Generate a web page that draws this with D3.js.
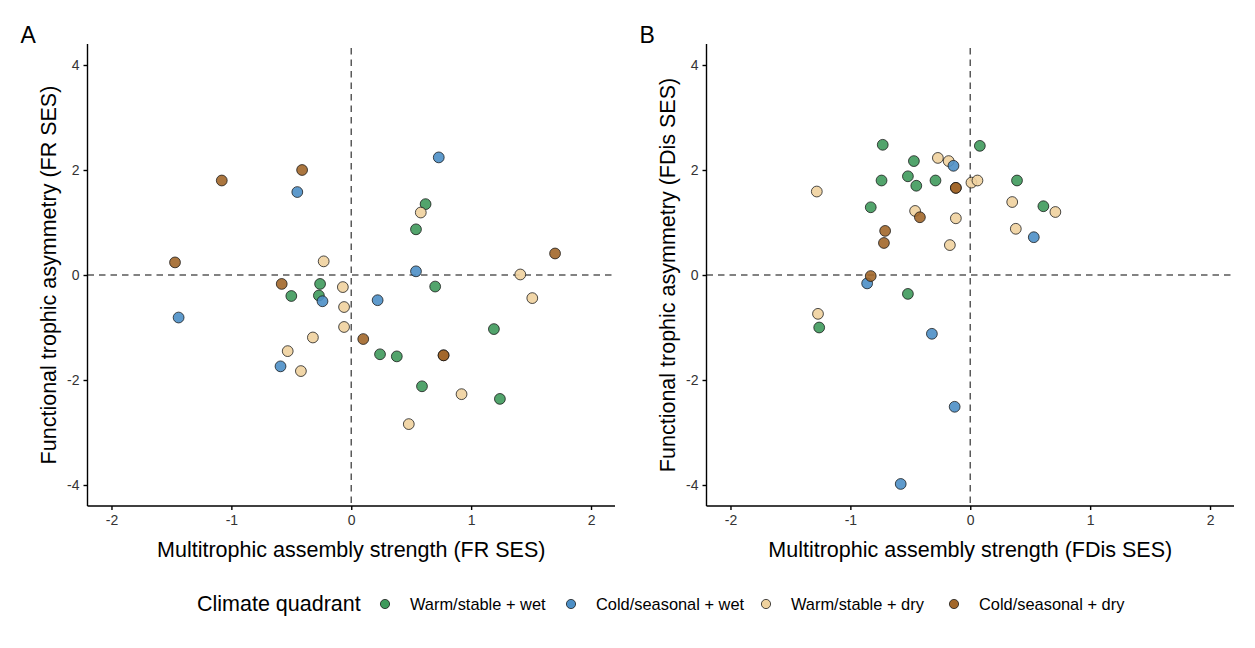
<html>
<head>
<meta charset="utf-8">
<script src="https://d3js.org/d3.v7.min.js"></script>
<style>
  body { margin: 0; background: #fff; }
  text { font-family: "Liberation Sans", Arial, sans-serif; }
</style>
</head>
<body>
<script>
// climate quadrants and their fills
var quadrants = ["Warm/stable + wet", "Cold/seasonal + wet", "Warm/stable + dry", "Cold/seasonal + dry"];
var quadColors = ["#3F9A5C", "#4C8FC6", "#EFD29E", "#A2672A"];

var xTicks = [-2, -1, 0, 1, 2];
var yTicks = [-4, -2, 0, 2, 4];

// panel A: FR SES (group index into quadrants)
var frX = [-0.41, -1.08, -0.45, -1.47, -0.23, -0.58, -0.26, -0.50, -0.27, -0.24, -0.07, -0.06, -0.06, -1.44, -0.32, -0.53, -0.59, -0.42,
           0.73, 0.62, 0.58, 0.54, 1.70, 0.54, 1.41, 0.70, 1.51, 0.22, 1.19, 0.10, 0.24, 0.38, 0.77, 0.77, 0.59, 0.92, 1.24, 0.48];
var frY = [2.00, 1.80, 1.58, 0.24, 0.26, -0.17, -0.17, -0.40, -0.39, -0.50, -0.23, -0.61, -0.99, -0.81, -1.19, -1.45, -1.74, -1.83,
           2.24, 1.35, 1.19, 0.87, 0.41, 0.07, 0.01, -0.22, -0.44, -0.48, -1.03, -1.22, -1.51, -1.55, -1.53, -1.53, -2.12, -2.27, -2.36, -2.84];
var frGroup = [3, 3, 1, 3, 2, 3, 0, 0, 0, 1, 2, 2, 2, 1, 2, 2, 1, 2,
               1, 0, 2, 0, 3, 1, 2, 0, 2, 1, 0, 3, 0, 0, 3, 3, 0, 2, 0, 2];

// panel B: FDis SES
var fdX = [-0.73, 0.08, -0.27, -0.18, -0.14, -0.47, -0.52, -0.74, -0.45, -0.29, -0.12, -0.12, 0.01, 0.06, -1.28, -0.83, -0.46, -0.42,
           -0.12, -0.71, -0.72, -0.17, 0.39, 0.35, 0.61, 0.71, 0.38, 0.53, -0.86, -0.83, -0.52, -1.27, -1.26, -0.32, -0.13, -0.58];
var fdY = [2.48, 2.46, 2.23, 2.17, 2.08, 2.17, 1.88, 1.80, 1.70, 1.80, 1.66, 1.66, 1.76, 1.80, 1.59, 1.29, 1.22, 1.10,
           1.08, 0.84, 0.61, 0.57, 1.80, 1.39, 1.31, 1.20, 0.88, 0.72, -0.16, -0.02, -0.36, -0.74, -1.00, -1.12, -2.51, -3.98];
var fdGroup = [0, 0, 2, 2, 1, 0, 0, 0, 0, 0, 3, 3, 2, 2, 2, 0, 2, 3,
               2, 3, 3, 2, 0, 2, 0, 2, 2, 1, 1, 3, 0, 2, 0, 1, 1, 1];

var W = 1255, H = 648;
var svg = d3.select("body").append("svg").attr("width", W).attr("height", H);

function panel(opts) {
    var x = d3.scaleLinear().domain([-2.2, 2.2]).range([opts.left, opts.right]);
    var y = d3.scaleLinear().domain([-4.4, 4.4]).range([opts.bottom, opts.top]);
    var g = svg.append("g");

    // reference lines
    g.append("line")
        .attr("x1", opts.left).attr("x2", opts.right)
        .attr("y1", y(0)).attr("y2", y(0))
        .style("stroke", "#5a5a5a").style("stroke-width", 1.5).style("stroke-dasharray", "6.5,5");
    g.append("line")
        .attr("x1", x(0)).attr("x2", x(0))
        .attr("y1", opts.top + 4).attr("y2", opts.bottom)
        .style("stroke", "#5a5a5a").style("stroke-width", 1.5).style("stroke-dasharray", "6.5,5");

    // points
    var idx = d3.range(opts.xs.length);
    g.selectAll("circle.pt")
        .data(idx)
        .enter()
        .append("circle")
        .attr("class", "pt")
        .attr("cx", i => x(opts.xs[i]))
        .attr("cy", i => y(opts.ys[i]))
        .attr("r", 5.4)
        .style("fill", i => quadColors[opts.groups[i]])
        .style("fill-opacity", 0.9)
        .style("stroke", "#111")
        .style("stroke-width", 0.75);

    // axes
    var xAxis = g.append("g")
        .attr("transform", "translate(0," + opts.bottom + ")")
        .call(d3.axisBottom(x).tickValues(xTicks).tickSize(4).tickPadding(5).tickFormat(d => String(d)));
    var yAxis = g.append("g")
        .attr("transform", "translate(" + opts.left + ",0)")
        .call(d3.axisLeft(y).tickValues(yTicks).tickSize(4).tickPadding(4).tickFormat(d => String(d)));
    [xAxis, yAxis].forEach(function(a) {
        a.select(".domain").style("stroke", "#000").style("stroke-width", 1.4);
        a.selectAll(".tick line").style("stroke", "#000").style("stroke-width", 1.4);
        a.selectAll(".tick text").style("font-size", "14px").style("fill", "#333")
            .style("font-family", "'Liberation Sans', Arial, sans-serif");
    });
    xAxis.select(".domain").attr("d", "M" + opts.left + ",0H" + opts.right);
    yAxis.select(".domain").attr("d", "M0," + opts.top + "V" + opts.bottom);

    // titles
    g.append("text")
        .attr("x", (opts.left + opts.right) / 2)
        .attr("y", 557)
        .attr("text-anchor", "middle")
        .style("font-size", "21.5px")
        .text(opts.xTitle);
    g.append("text")
        .attr("transform", "translate(" + (opts.left - 32) + "," + ((opts.top + opts.bottom) / 2) + ") rotate(-90)")
        .attr("text-anchor", "middle")
        .style("font-size", "21.5px")
        .text(opts.yTitle);
    g.append("text")
        .attr("x", opts.left - 67)
        .attr("y", 43)
        .style("font-size", "23px")
        .text(opts.tag);
}

panel({left: 87.5, right: 615, top: 44, bottom: 506, xs: frX, ys: frY, groups: frGroup,
       xTitle: "Multitrophic assembly strength (FR SES)", yTitle: "Functional trophic asymmetry (FR SES)", tag: "A"});
panel({left: 706.5, right: 1234, top: 44, bottom: 506, xs: fdX, ys: fdY, groups: fdGroup,
       xTitle: "Multitrophic assembly strength (FDis SES)", yTitle: "Functional trophic asymmetry (FDis SES)", tag: "B"});

// legend
var legend = svg.append("g");
legend.append("text")
    .attr("x", 197).attr("y", 611)
    .style("font-size", "21.5px")
    .text("Climate quadrant");
var legX = [385, 571, 766, 954];
legend.selectAll("circle.key")
    .data(quadrants)
    .enter()
    .append("circle")
    .attr("class", "key")
    .attr("cx", (d, i) => legX[i])
    .attr("cy", 604)
    .attr("r", 4.6)
    .style("fill", (d, i) => quadColors[i])
    .style("stroke", "#111")
    .style("stroke-width", 0.75);
legend.selectAll("text.key")
    .data(quadrants)
    .enter()
    .append("text")
    .attr("class", "key")
    .attr("x", (d, i) => legX[i] + 25)
    .attr("y", 610)
    .style("font-size", "16.4px")
    .text(d => d);
</script>
</body>
</html>
